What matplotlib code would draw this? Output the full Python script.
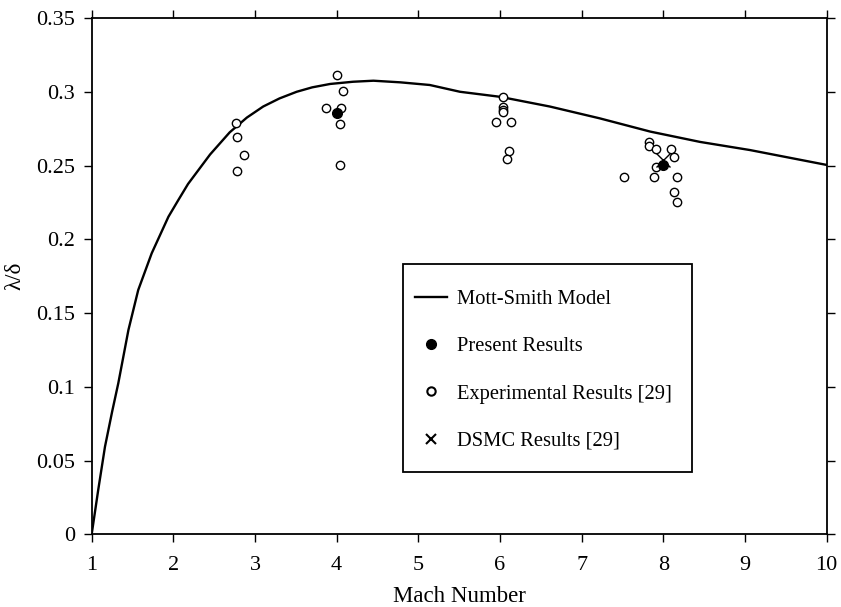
import matplotlib
matplotlib.use("Agg")
import matplotlib.pyplot as plt
from matplotlib.patches import Rectangle
from matplotlib.lines import Line2D

plt.rcParams['font.family'] = ['Liberation Serif', 'DejaVu Serif']

# Mott-Smith model curve
model_x = [1.0, 1.08, 1.163, 1.25, 1.326, 1.45, 1.57, 1.735, 1.94, 2.06, 2.18, 2.45, 2.69, 2.9, 3.10,
           3.3, 3.51, 3.7, 3.92, 4.2, 4.45, 4.78, 5.14, 5.51, 6.0, 6.61, 7.22, 7.84, 8.45, 9.06, 10.0]
model_y = [0.0, 0.030, 0.0594, 0.083, 0.1024, 0.1385, 0.1656, 0.1905, 0.2153, 0.2265, 0.2375, 0.2575,
           0.2725, 0.2825, 0.290, 0.2955, 0.300, 0.303, 0.3053, 0.3068, 0.3075, 0.3064, 0.3046, 0.300,
           0.2966, 0.290, 0.282, 0.273, 0.266, 0.2605, 0.2504]

present_x = [4.0, 8.0]
present_y = [0.2854, 0.2505]

exp_x = [2.77, 2.78, 2.86, 2.78,
         4.0, 4.08, 3.87, 4.05, 4.04, 4.04,
         6.04, 6.04, 6.04, 6.04, 5.95, 6.13, 6.11, 6.08,
         7.83, 7.83, 7.91, 8.09, 8.13, 7.91, 7.52, 7.89, 8.17, 8.13, 8.17]
exp_y = [0.2786, 0.2694, 0.2572, 0.2465,
         0.3114, 0.3003, 0.2892, 0.2892, 0.2784, 0.2502,
         0.2965, 0.2897, 0.2877, 0.2861, 0.2795, 0.2795, 0.2597, 0.2545,
         0.2662, 0.2633, 0.261, 0.2614, 0.256, 0.2492, 0.2425, 0.2425, 0.2425, 0.2323, 0.2253]

dsmc_x = [8.0]
dsmc_y = [0.254]

x_ticks = [1, 2, 3, 4, 5, 6, 7, 8, 9, 10]
y_ticks = [0, 0.05, 0.1, 0.15, 0.2, 0.25, 0.3, 0.35]
y_tick_labels = ['0', '0.05', '0.1', '0.15', '0.2', '0.25', '0.3', '0.35']

fig = plt.figure(figsize=(8.41, 6.07), dpi=100)
ax = fig.add_axes([0.109, 0.1198, 0.874, 0.8505])

ax.plot(model_x, model_y, color='black', lw=1.7, zorder=2)
ax.plot(exp_x, exp_y, 'o', mfc='white', mec='black', ms=6, mew=1.0, ls='none', zorder=3)
ax.plot(dsmc_x, dsmc_y, 'x', color='black', ms=10, mew=1.0, ls='none', zorder=4)
ax.plot(present_x, present_y, 'o', color='black', ms=7, ls='none', zorder=5)

ax.set_xlim(1, 10)
ax.set_ylim(0, 0.35)
ax.set_xticks(x_ticks)
ax.set_yticks(y_ticks)
ax.set_yticklabels(y_tick_labels)
ax.tick_params(direction='out', length=5.5, width=1.0, labelsize=16,
               top=True, right=True, labeltop=False, labelright=False)
ax.tick_params(axis='x', pad=10)
ax.tick_params(axis='y', pad=6.5)
for s in ax.spines.values():
    s.set_linewidth(1.3)

ax.set_xlabel('Mach Number', fontsize=16.5, labelpad=8)
ax.set_ylabel('λ/δ', fontsize=16.5, labelpad=8)

# legend frame
ax.add_patch(Rectangle((0.4235, 0.120), 0.393, 0.403, transform=ax.transAxes,
                       fill=True, facecolor='white', edgecolor='black', lw=1.3, zorder=6))
handles = [Line2D([], [], color='black', lw=1.7),
           Line2D([], [], marker='o', color='black', ms=7, ls='none'),
           Line2D([], [], marker='o', mfc='white', mec='black', ms=6, mew=1.5, ls='none'),
           Line2D([], [], marker='x', color='black', ms=7, mew=1.5, ls='none')]
labels = ['Mott-Smith Model', 'Present Results', 'Experimental Results [29]', 'DSMC Results [29]']
leg = ax.legend(handles, labels, loc='center left', bbox_to_anchor=(0.4235, 0.3178),
                frameon=False, fontsize=14.8, handlelength=1.55, handletextpad=0.5,
                labelspacing=1.36, borderpad=0.6, borderaxespad=0)
leg.set_zorder(7)

fig.savefig('out.png', dpi=100)
